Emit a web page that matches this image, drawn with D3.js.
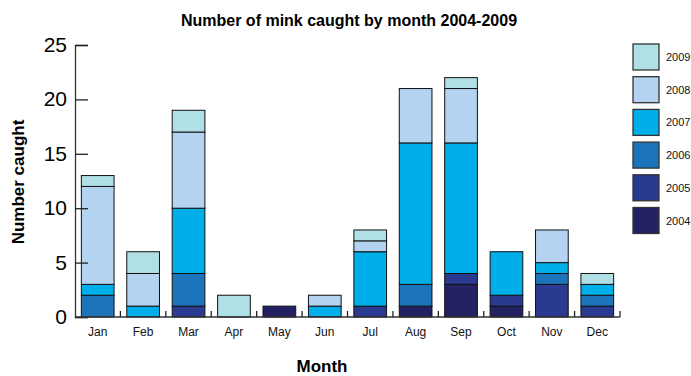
<!DOCTYPE html>
<html>
<head>
<meta charset="utf-8">
<script src="https://cdn.jsdelivr.net/npm/d3@7"></script>
<style>
  body { margin: 0; background: #fff; }
  svg text { font-family: "Liberation Sans", Arial, sans-serif; }
</style>
</head>
<body>
<div id="chart"></div>
<script>
// data
const months = ["Jan", "Feb", "Mar", "Apr", "May", "Jun", "Jul", "Aug", "Sep", "Oct", "Nov", "Dec"];
const years = ["2004", "2005", "2006", "2007", "2008", "2009"];
const y2004 = [0, 0, 0, 0, 1, 0, 0, 1, 3, 1, 0, 0];
const y2005 = [0, 0, 1, 0, 0, 0, 1, 0, 1, 1, 3, 1];
const y2006 = [2, 0, 3, 0, 0, 0, 0, 2, 0, 0, 1, 1];
const y2007 = [1, 1, 6, 0, 0, 1, 5, 13, 12, 4, 1, 1];
const y2008 = [9, 3, 7, 0, 0, 1, 1, 5, 5, 0, 3, 0];
const y2009 = [1, 2, 2, 2, 0, 0, 1, 0, 1, 0, 0, 1];
const yTicks = [0, 5, 10, 15, 20, 25];
const colors = ["#242163", "#293a90", "#1c75bb", "#00aeea", "#b3d3f1", "#b0e0e5"];

const width = 691, height = 376;
const margin = { top: 45, right: 71, bottom: 59, left: 75 };

const series = [y2004, y2005, y2006, y2007, y2008, y2009];
const table = months.map((m, i) => {
  const row = { month: m };
  years.forEach((y, k) => row[y] = series[k][i]);
  return row;
});

const stacked = d3.stack().keys(years)(table);

const svg = d3.select("#chart").append("svg")
  .attr("width", width)
  .attr("height", height);

const x = d3.scaleBand()
  .domain(months)
  .range([margin.left, width - margin.right])
  .paddingInner(0.28)
  .paddingOuter(0.14);

const y = d3.scaleLinear()
  .domain([0, 25])
  .range([height - margin.bottom, margin.top]);

// bars
svg.append("g").selectAll("g")
  .data(stacked)
  .enter().append("g")
  .attr("fill", (d, i) => colors[i])
  .selectAll("rect")
  .data(d => d.filter(s => s[1] - s[0] > 0))
  .enter().append("rect")
  .attr("x", d => x(d.data.month))
  .attr("y", d => y(d[1]))
  .attr("width", x.bandwidth())
  .attr("height", d => y(d[0]) - y(d[1]))
  .attr("stroke", "#111")
  .attr("stroke-width", 1);

// y axis, ticks pointing inward
const yAxis = svg.append("g")
  .attr("transform", `translate(${margin.left},0)`)
  .call(d3.axisRight(y).tickValues(yTicks).tickSize(13).tickFormat(""));
yAxis.select(".domain").attr("stroke", "#333").attr("stroke-width", 1.3);
yAxis.selectAll(".tick line").attr("stroke", "#222").attr("stroke-width", 1.3);

svg.append("g").selectAll("text")
  .data(yTicks)
  .enter().append("text")
  .attr("x", 67)
  .attr("y", d => y(d) + 7)
  .attr("text-anchor", "end")
  .attr("font-size", "21px")
  .attr("fill", "#000")
  .text(d => d);

// x axis with small ticks between the bars
const step = x.step();
const xBase = y(0);
svg.append("line")
  .attr("x1", margin.left).attr("x2", width - margin.right)
  .attr("y1", xBase).attr("y2", xBase)
  .attr("stroke", "#333").attr("stroke-width", 1.3);
svg.append("g").selectAll("line")
  .data(months)
  .enter().append("line")
  .attr("x1", d => x(d) + x.bandwidth() + (step - x.bandwidth()) / 2)
  .attr("x2", d => x(d) + x.bandwidth() + (step - x.bandwidth()) / 2)
  .attr("y1", xBase).attr("y2", xBase - 6)
  .attr("stroke", "#222").attr("stroke-width", 1.3);

svg.append("g").selectAll("text")
  .data(months)
  .enter().append("text")
  .attr("x", d => x(d) + x.bandwidth() / 2)
  .attr("y", 336)
  .attr("text-anchor", "middle")
  .attr("font-size", "12px")
  .attr("fill", "#111")
  .text(d => d);

// titles
svg.append("text")
  .attr("x", 349).attr("y", 26)
  .attr("text-anchor", "middle")
  .attr("font-size", "16px")
  .attr("font-weight", "bold")
  .text("Number of mink caught by month 2004-2009");

svg.append("text")
  .attr("x", 322).attr("y", 372)
  .attr("text-anchor", "middle")
  .attr("font-size", "17px")
  .attr("font-weight", "bold")
  .text("Month");

svg.append("text")
  .attr("transform", "translate(24,182) rotate(-90)")
  .attr("text-anchor", "middle")
  .attr("font-size", "17px")
  .attr("font-weight", "bold")
  .text("Number caught");

// legend, 2009 on top
const legendYears = years.slice().reverse();
const legend = svg.append("g").selectAll("g")
  .data(legendYears)
  .enter().append("g")
  .attr("transform", (d, i) => `translate(633,${44 + i * 32.7})`);
legend.append("rect")
  .attr("width", 26).attr("height", 26)
  .attr("fill", d => colors[years.indexOf(d)])
  .attr("stroke", "#333").attr("stroke-width", 1.3);
legend.append("text")
  .attr("x", 33).attr("y", 17)
  .attr("font-size", "11px")
  .attr("fill", "#111")
  .text(d => d);
</script>
</body>
</html>
